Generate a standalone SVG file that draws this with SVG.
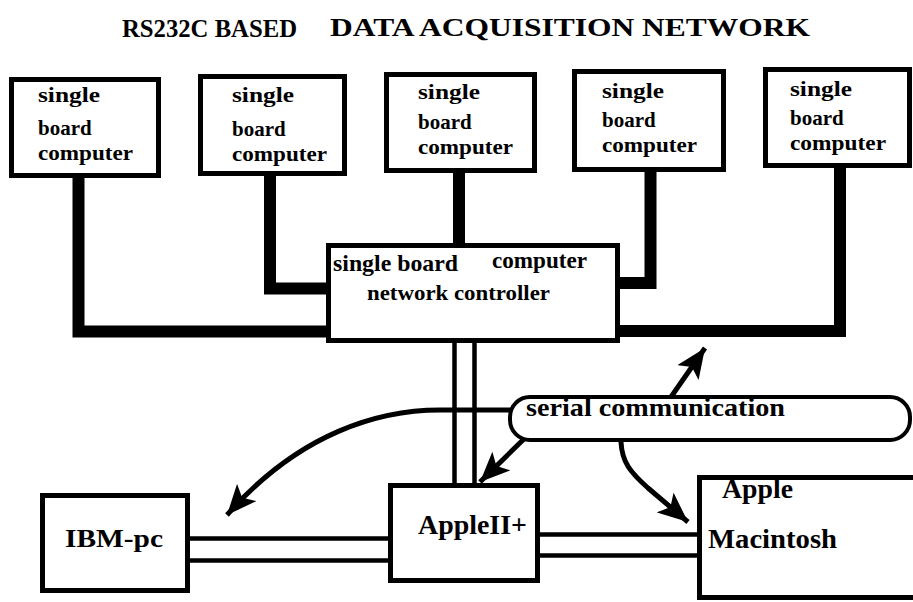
<svg xmlns="http://www.w3.org/2000/svg" width="913" height="602" viewBox="0 0 913 602">
<style>
  .box { fill: #fff; stroke: #000; stroke-width: 5; }
  .t { font-family: "Liberation Serif", "DejaVu Serif", serif; font-weight: bold; fill: #000; }
  .s { font-size: 21px; }
  .bus { fill: none; stroke: #000; stroke-width: 12; stroke-linejoin: miter; stroke-linecap: butt; }
  .dbl { fill: none; stroke: #000; stroke-width: 4.5; }
  .arr { fill: none; stroke: #000; stroke-width: 5; }
</style>
<defs>
  <marker id="ah" markerUnits="userSpaceOnUse" markerWidth="32" markerHeight="26" refX="30" refY="13" orient="auto">
    <path d="M0,0 L30,13 L0,26 L7,13 z" fill="#000"/>
  </marker>
</defs>
<rect width="913" height="602" fill="#fff"/>

<g id="title">
  <text class="t" x="122" y="37" font-size="25" textLength="175" lengthAdjust="spacingAndGlyphs">RS232C BASED</text>
  <text class="t" x="330" y="36" font-size="25" textLength="480" lengthAdjust="spacingAndGlyphs">DATA ACQUISITION NETWORK</text>
</g>

<g id="connectors">
  <path class="bus" d="M78.5,178 V331.5 H330"/>
  <path class="bus" d="M270,176 V288.5 H330"/>
  <path class="bus" d="M459,173 V246"/>
  <path class="bus" d="M650.5,172 V283 H616"/>
  <path class="bus" d="M840,168 V331 H616"/>
  <path class="dbl" d="M454.5,343 V485 M474.5,343 V485"/>
  <path class="dbl" d="M190,538.5 H390 M190,560.5 H390"/>
  <path class="dbl" d="M538,534.5 H700 M538,555.5 H700"/>
  <path class="arr" d="M510,410 H440 C380,410 300,432 227,515" marker-end="url(#ah)"/>
  <path class="arr" d="M526,437 L480,482" marker-end="url(#ah)"/>
  <path class="arr" d="M671,397 L705,348" marker-end="url(#ah)"/>
  <path class="arr" d="M621,442 C622,462 630,472 648,488 L688,522" marker-end="url(#ah)"/>
</g>

<g id="sbc1">
  <rect class="box" x="11.5" y="79.5" width="147" height="96"/>
  <text class="t s" x="38" y="102" textLength="62" lengthAdjust="spacingAndGlyphs">single</text>
  <text class="t s" x="38" y="135">board</text>
  <text class="t s" x="38" y="160" textLength="95" lengthAdjust="spacingAndGlyphs">computer</text>
</g>
<g id="sbc2">
  <rect class="box" x="200.5" y="76.5" width="144" height="97"/>
  <text class="t s" x="232" y="102" textLength="62" lengthAdjust="spacingAndGlyphs">single</text>
  <text class="t s" x="232" y="136">board</text>
  <text class="t s" x="232" y="161" textLength="95" lengthAdjust="spacingAndGlyphs">computer</text>
</g>
<g id="sbc3">
  <rect class="box" x="386.5" y="74.5" width="148" height="96"/>
  <text class="t s" x="418" y="99" textLength="62" lengthAdjust="spacingAndGlyphs">single</text>
  <text class="t s" x="418" y="129">board</text>
  <text class="t s" x="418" y="154" textLength="95" lengthAdjust="spacingAndGlyphs">computer</text>
</g>
<g id="sbc4">
  <rect class="box" x="574.5" y="71.5" width="149" height="98"/>
  <text class="t s" x="602" y="98" textLength="62" lengthAdjust="spacingAndGlyphs">single</text>
  <text class="t s" x="602" y="127">board</text>
  <text class="t s" x="602" y="152" textLength="95" lengthAdjust="spacingAndGlyphs">computer</text>
</g>
<g id="sbc5">
  <rect class="box" x="765.5" y="69.5" width="144" height="96"/>
  <text class="t s" x="790" y="96" textLength="62" lengthAdjust="spacingAndGlyphs">single</text>
  <text class="t s" x="790" y="125">board</text>
  <text class="t s" x="790" y="150" textLength="96" lengthAdjust="spacingAndGlyphs">computer</text>
</g>

<g id="controller">
  <rect class="box" x="328.5" y="245.5" width="289" height="95"/>
  <text class="t" x="333" y="271" font-size="23" textLength="125" lengthAdjust="spacingAndGlyphs">single board</text>
  <text class="t" x="492" y="268" font-size="23" textLength="95" lengthAdjust="spacingAndGlyphs">computer</text>
  <text class="t" x="367" y="300" font-size="22" textLength="183" lengthAdjust="spacingAndGlyphs">network controller</text>
</g>

<g id="serial">
  <rect class="box" x="510" y="397" width="400" height="43" rx="20" ry="20" style="stroke-width:4"/>
  <text class="t" x="526" y="416" font-size="25" textLength="259" lengthAdjust="spacingAndGlyphs">serial communication</text>
</g>

<g id="ibm">
  <rect class="box" x="42.5" y="495.5" width="145" height="95"/>
  <text class="t" x="65" y="547" font-size="26" textLength="98" lengthAdjust="spacingAndGlyphs">IBM-pc</text>
</g>

<g id="apple2">
  <rect class="box" x="390.5" y="485.5" width="147" height="95"/>
  <text class="t" x="418" y="534" font-size="27" textLength="109" lengthAdjust="spacingAndGlyphs">AppleII+</text>
</g>

<g id="mac">
  <rect class="box" x="699.5" y="477.5" width="230" height="120"/>
  <text class="t" x="722" y="498" font-size="27" textLength="71" lengthAdjust="spacingAndGlyphs">Apple</text>
  <text class="t" x="708" y="548" font-size="27" textLength="129" lengthAdjust="spacingAndGlyphs">Macintosh</text>
</g>
</svg>
